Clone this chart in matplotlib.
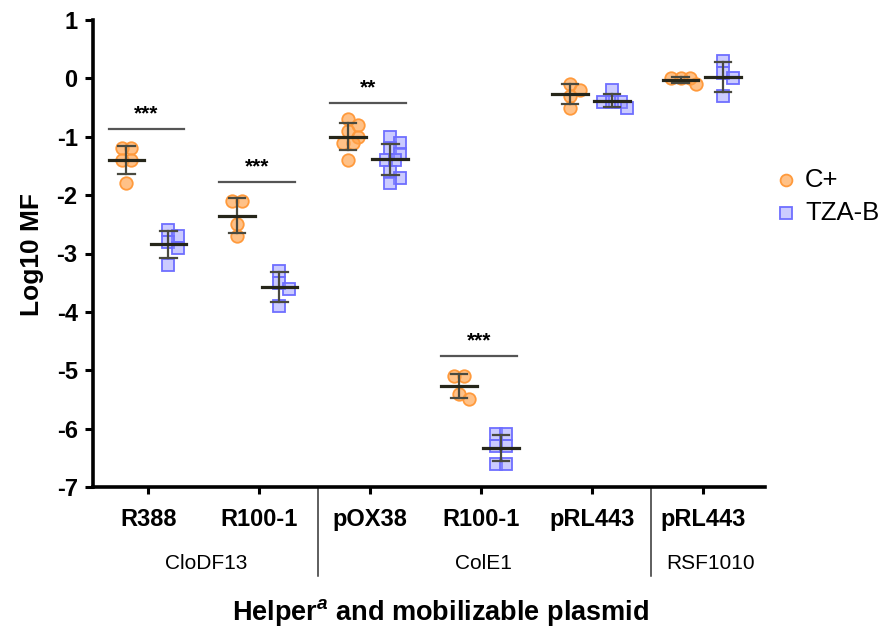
import numpy as np
import matplotlib
matplotlib.use("Agg")
import matplotlib.pyplot as plt
from matplotlib.lines import Line2D
from matplotlib.transforms import blended_transform_factory

plt.rcParams['font.family'] = ['Liberation Sans', 'DejaVu Sans']
plt.rcParams['mathtext.fontset'] = 'custom'
plt.rcParams['mathtext.it'] = 'Liberation Sans:italic:bold'
plt.rcParams['mathtext.rm'] = 'Liberation Sans:bold'

# ---------------- data ----------------
groups = ['R388', 'R100-1', 'pOX38', 'R100-1', 'pRL443', 'pRL443']
c_plus = [
    [-1.2, -1.2, -1.4, -1.4, -1.8],
    [-2.1, -2.1, -2.5, -2.7],
    [-0.7, -0.8, -0.9, -1.0, -1.1, -1.1, -1.4],
    [-5.1, -5.1, -5.4, -5.5],
    [-0.1, -0.2, -0.3, -0.5],
    [0.0, 0.0, 0.0, -0.1],
]
tza_b = [
    [-2.6, -2.7, -2.8, -2.9, -3.2],
    [-3.3, -3.5, -3.6, -3.9],
    [-1.0, -1.1, -1.2, -1.3, -1.4, -1.4, -1.6, -1.7, -1.8],
    [-6.1, -6.1, -6.3, -6.3, -6.6, -6.6],
    [-0.2, -0.4, -0.4, -0.4, -0.5],
    [0.3, 0.1, 0.0, -0.3],
]
sig_groups = [0, 1, 2, 3]
sig_labels = ['***', '***', '**', '***']
sig_levels = [-0.875, -1.78, -0.43, -4.76]
backbones = ['CloDF13', 'ColE1', 'RSF1010']
series_names = ['C+', 'TZA-B']
yticks = [1, 0, -1, -2, -3, -4, -5, -6, -7]

# ---------------- figure ----------------
W, H = 887, 634
fig = plt.figure(figsize=(W / 100, H / 100), dpi=100)
ax = fig.add_axes([93 / W, 1 - 487 / H, (765 - 93) / W, (487 - 20) / H])
ax.set_xlim(-0.5, 5.56)
ax.set_ylim(-7, 1)

px_x = 111.0   # pixels per x unit
px_y = 58.4    # pixels per y unit
diam = 11.0    # marker diameter in px


def swarm(vals, center):
    """Simple beeswarm: equal values spread symmetrically, near values nudged aside."""
    placed = []
    xs = []
    step = diam * 0.45
    vals = list(vals)
    for i, v in enumerate(vals):
        yp = v * px_y
        n_same = vals.count(v)
        if n_same > 1:
            k = [j for j, w in enumerate(vals) if w == v].index(i)
            c = (k - (n_same - 1) / 2) * diam * 0.85
        else:
            cands = [0]
            for s in range(1, 8):
                cands += [s * step, -s * step]
            for c in cands:
                if all(((c - px) ** 2 + (yp - py) ** 2) ** 0.5 >= diam * 0.7 for px, py in placed):
                    break
        placed.append((c, yp))
        xs.append(center + c / px_x)
    return np.array(xs)


c_face = (1.0, 0.63, 0.28, 0.65)
c_edge = '#FF9A3C'
t_face = (0.55, 0.55, 1.0, 0.45)
t_edge = '#6E6EFF'
styles = [
    dict(marker='o', mfc=c_face, mec=c_edge, ms=9, mew=1.3),
    dict(marker='s', mfc=t_face, mec=t_edge, ms=8.5, mew=1.3),
]
offsets = [-0.2, 0.18]

for gi in range(len(groups)):
    for si, data in enumerate([c_plus, tza_b]):
        vals = np.array(data[gi])
        center = gi + offsets[si]
        xs = swarm(data[gi], center)
        ax.plot(xs, vals, ls='none', zorder=3, **styles[si])
        m = vals.mean()
        sd = vals.std(ddof=1)
        ax.plot([center, center], [m - sd, m + sd], color='#4a4a40', lw=1.6, zorder=4)
        for yv in (m - sd, m + sd):
            ax.plot([center - 0.075, center + 0.075], [yv, yv], color='#4a4a40', lw=1.6, zorder=4)
        ax.plot([center - 0.16, center + 0.16], [m, m], color='#26261a', lw=2.3, zorder=5)

for g, lab, lev in zip(sig_groups, sig_labels, sig_levels):
    ax.plot([g - 0.36, g + 0.32], [lev, lev], color='#555555', lw=1.6, zorder=2)
    ax.text(g - 0.02, lev + 0.1, lab, ha='center', va='bottom', fontsize=15, fontweight='bold')

# axes styling
for s in ['top', 'right']:
    ax.spines[s].set_visible(False)
for s in ['left', 'bottom']:
    ax.spines[s].set_linewidth(2.6)
ax.set_yticks(yticks)
ax.set_yticklabels([str(t) for t in yticks], fontsize=17, fontweight='bold')
ax.set_xticks(range(len(groups)))
ax.set_xticklabels(groups, fontsize=17, fontweight='bold')
ax.tick_params(axis='y', length=6, width=2.2, pad=5)
ax.tick_params(axis='x', length=5, width=2.2, pad=10)

# separators and backbone labels
tr = blended_transform_factory(ax.transData, ax.transAxes)
for xs_ in (1.53, 4.53):
    ax.plot([xs_, xs_], [0, -0.19], transform=tr, color='#333333', lw=1.1, clip_on=False)
for name, xc in zip(backbones, [0.52, 3.02, 5.07]):
    ax.text(xc, -0.163, name, transform=tr, ha='center', va='center', fontsize=15)

fig.text(441 / W, 1 - 612 / H, r'Helper$^{\mathit{a}}$ and mobilizable plasmid',
         ha='center', va='center', fontsize=19.5, fontweight='bold')
fig.text(32 / W, 1 - 255 / H, 'Log10 MF', rotation=90, ha='center', va='center',
         fontsize=19, fontweight='bold')

# legend (manual)
leg_y = [180, 213]
leg_styles = [
    dict(marker='o', mfc=c_face, mec=c_edge, ms=8.5, mew=1.3),
    dict(marker='s', mfc=t_face, mec=t_edge, ms=8, mew=1.3),
]
for name, yy, st in zip(series_names, leg_y, leg_styles):
    fig.add_artist(Line2D([786 / W], [1 - yy / H], ls='none', transform=fig.transFigure, **st))
    fig.text(805 / W, 1 - yy / H, name, ha='left', va='center', fontsize=18.5)

fig.savefig('out.png', dpi=100)
